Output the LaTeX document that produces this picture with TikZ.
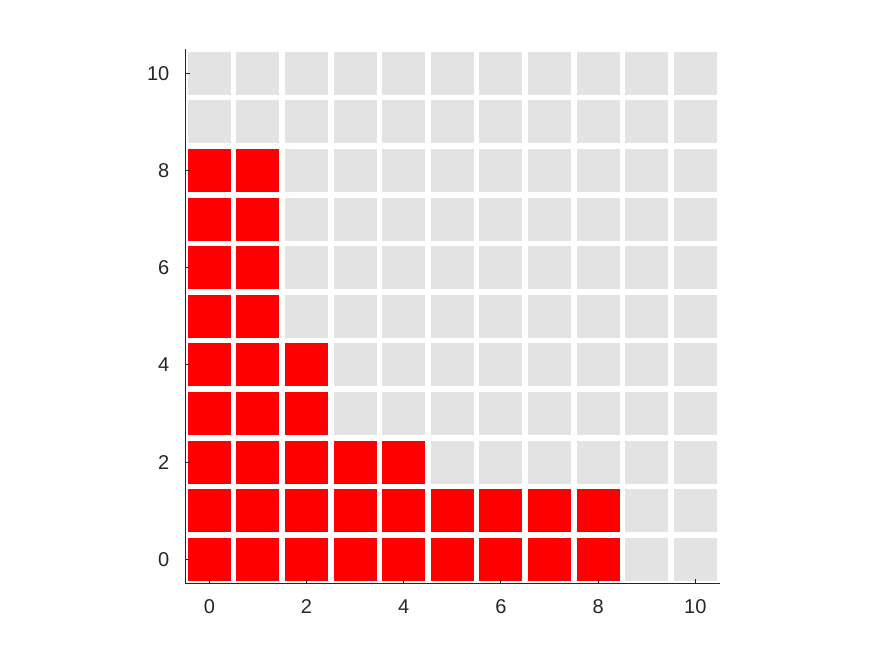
\documentclass[tikz,border=0pt]{standalone}
\usepackage{fontspec}
\setmainfont{Liberation Sans}
\usetikzlibrary{positioning}
\definecolor{cellgray}{HTML}{E3E3E3}
\definecolor{axisgray}{HTML}{262626}

\begin{document}
\begin{tikzpicture}[x=48.6pt, y=48.6pt,
  cell/.style={rectangle, fill=cellgray, minimum size=43pt, inner sep=0pt},
  hit/.style={cell, fill=red},
  ax/.style={axisgray, line width=1pt},
  lbl/.style={font=\fontsize{20}{22}\selectfont, text=axisgray}
]
  \useasboundingbox (-4.307,-1.969) rectangle (13.656,11.508);
  % cells: column / last red row
  \foreach \i/\h in {0/8,1/8,2/4,3/2,4/2,5/1,6/1,7/1,8/1,9/-1,10/-1} {
    \foreach \j in {0,...,10} {
      \ifnum\j>\h\relax
        \node[cell] (c\i-\j) at (\i,\j) {};
      \else
        \node[hit] (c\i-\j) at (\i,\j) {};
      \fi
    }
  }
  % axes
  \coordinate (o) at (-0.5,-0.5);
  \coordinate (ytop) at (-0.5,10.5);
  \coordinate (xend) at (10.5,-0.5);
  \draw[ax] (ytop) -- (o) -- (xend);
  \foreach \t in {0,2,...,10} {
    \draw[ax] (\t,-0.5) -- ++(0,0.1);
    \draw[ax] (-0.5,\t) -- ++(0.1,0);
    \node[lbl] (xl\t) at (\t,-0.98) {\t};
    \node[lbl, anchor=east] (yl\t) at (-0.75,\t) {\t};
  }
\end{tikzpicture}
\end{document}
